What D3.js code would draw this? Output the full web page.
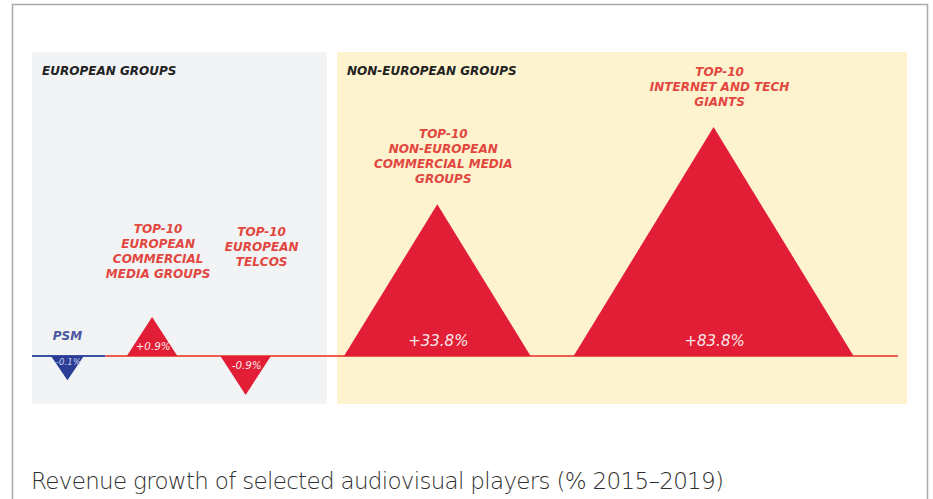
<!DOCTYPE html>
<html lang="en">
<head>
  <meta charset="UTF-8">
  <title>Revenue growth of selected audiovisual players</title>
  <script src="https://d3js.org/d3.v7.min.js"></script>
  <style>
    body {
      margin: 0;
      background: #fff;
    }
    .label {
      font-family: "DejaVu Sans", sans-serif;
      font-weight: 700;
      font-style: oblique;
      font-size: 12px;
      fill: #e2473f;
    }
    .group-title {
      font-family: "DejaVu Sans", sans-serif;
      font-weight: 700;
      font-style: oblique;
      font-size: 12px;
      fill: #222;
    }
    .value {
      font-family: "DejaVu Sans", sans-serif;
      font-style: oblique;
      fill: #fbe9e9;
    }
    .caption {
      font-family: "DejaVu Sans", sans-serif;
      font-weight: 200;
      font-size: 23px;
      fill: #2e2e2e;
    }
  </style>
</head>
<body>
  <svg width="933" height="499"></svg>

  <script>
    // data
    const groups = ["EUROPEAN GROUPS", "NON-EUROPEAN GROUPS"];
    const categories = ["PSM", "Top-10 European commercial media groups", "Top-10 European telcos",
                        "Top-10 non-European commercial media groups", "Top-10 internet and tech giants"];
    const categoryGroup = [0, 0, 0, 1, 1];
    const labelLines = [
      ["PSM"],
      ["TOP-10", "EUROPEAN", "COMMERCIAL", "MEDIA GROUPS"],
      ["TOP-10", "EUROPEAN", "TELCOS"],
      ["TOP-10", "NON-EUROPEAN", "COMMERCIAL MEDIA", "GROUPS"],
      ["TOP-10", "INTERNET AND TECH", "GIANTS"]
    ];
    const growth = [-0.1, 0.9, -0.9, 33.8, 83.8];
    const valueLabels = ["-0.1%", "+0.9%", "-0.9%", "+33.8%", "+83.8%"];
    const caption = "Revenue growth of selected audiovisual players (% 2015\u20132019)";

    const svg = d3.select("svg");

    // outer frame
    svg.append("rect")
      .attr("x", 12.5).attr("y", 4.5)
      .attr("width", 915).attr("height", 510)
      .attr("fill", "none")
      .attr("stroke", "#a9a9a9")
      .attr("stroke-width", 1.5);

    const panels = [
      {x0: 32, x1: 327, fill: "#f1f3f5", inset: 19},
      {x0: 337, x1: 907, fill: "#fdf3cf", inset: 7}
    ];
    const panelTop = 52, panelBottom = 404, y0 = 356, gap = 43;

    svg.selectAll(".panel")
      .data(panels)
      .enter().append("rect")
        .attr("class", "panel")
        .attr("x", d => d.x0).attr("y", panelTop)
        .attr("width", d => d.x1 - d.x0).attr("height", panelBottom - panelTop)
        .attr("fill", d => d.fill);

    svg.selectAll(".group-title")
      .data(groups)
      .enter().append("text")
        .attr("class", "group-title")
        .attr("x", (d, i) => panels[i].x0 + 10)
        .attr("y", 75)
        .text(d => d);

    // triangle sizes: area-like (sqrt) scales with a minimum so small ones stay readable
    const maxV = d3.max(growth, d => Math.abs(d));
    const height = d3.scaleSqrt().domain([0, maxV]).range([17, 229]);
    const halfWidth = d3.scaleSqrt().domain([0, maxV]).range([12, 140]);

    // lay out triangles left to right inside each panel
    const items = growth.map((v, i) => ({
      v, i, g: categoryGroup[i],
      h: height(Math.abs(v)), hw: halfWidth(Math.abs(v)),
      lines: labelLines[i], valueLabel: valueLabels[i]
    }));
    const cursor = panels.map(p => p.x0 + p.inset);
    items.forEach(d => {
      d.left = cursor[d.g];
      d.cx = d.left + d.hw;
      d.right = d.left + 2 * d.hw;
      d.apex = d.v >= 0 ? y0 - d.h : y0 + d.h;
      cursor[d.g] = d.right + gap;
    });

    const colour = d => d.i === 0 ? "#2b3c95" : "#e21e36";

    // baseline: blue under PSM, red for the rest
    const split = (items[0].right + items[1].left) / 2;
    svg.append("line")
      .attr("x1", panels[0].x0).attr("x2", split)
      .attr("y1", y0).attr("y2", y0)
      .attr("stroke", "#3b4ea6").attr("stroke-width", 2);
    svg.append("line")
      .attr("x1", split).attr("x2", panels[1].x1 - 9)
      .attr("y1", y0).attr("y2", y0)
      .attr("stroke", "#ec5f4e").attr("stroke-width", 2);

    svg.selectAll(".tri")
      .data(items)
      .enter().append("path")
        .attr("class", "tri")
        .attr("d", d => `M${d.left},${y0}L${d.cx},${d.apex}L${d.right},${y0}Z`)
        .attr("fill", colour);

    // values inside triangles
    svg.selectAll(".value")
      .data(items)
      .enter().append("text")
        .attr("class", "value")
        .attr("x", d => d.cx + 1)
        .attr("y", d => y0 + (d.v >= 0 ? -1 : 1) * Math.min(15, d.h * 0.25))
        .attr("dy", "0.35em")
        .attr("text-anchor", "middle")
        .style("font-size", d => Math.min(15, 6 + d.h * 0.11) + "px")
        .style("fill", d => d.i === 0 ? "#c9d2f2" : null)
        .text(d => d.valueLabel);

    // category labels
    const lineH = 15;
    const labels = svg.selectAll(".label")
      .data(items)
      .enter().append("text")
        .attr("class", "label")
        .attr("text-anchor", "middle")
        .attr("transform", d => {
          let first;
          if (d.lines.length === 1) first = y0 - 16;
          else if (d.g === 0) first = 233 + (d.v < 0 ? 3 : 0);
          else first = d.apex - 21 - (d.lines.length - 1) * lineH;
          const dx = d.g === 0 && d.v < 0 && d.lines.length > 1 ? 16 : 6;
          return `translate(${d.cx + (d.lines.length === 1 ? 0 : dx)},${first})`;
        })
        .style("fill", d => d.i === 0 ? "#4d57a0" : null);

    labels.selectAll("tspan")
      .data(d => d.lines)
      .enter().append("tspan")
        .attr("x", 0)
        .attr("y", (d, j) => j * lineH)
        .text(d => d);

    // caption, spaced out to the width it has in the original
    const cap = svg.append("text")
      .attr("class", "caption")
      .attr("x", 31)
      .attr("y", 489)
      .text(caption);
    const capLen = cap.node().getComputedTextLength();
    cap.style("letter-spacing", ((693 - capLen) / (caption.length - 1)) + "px");
  </script>
</body>
</html>
